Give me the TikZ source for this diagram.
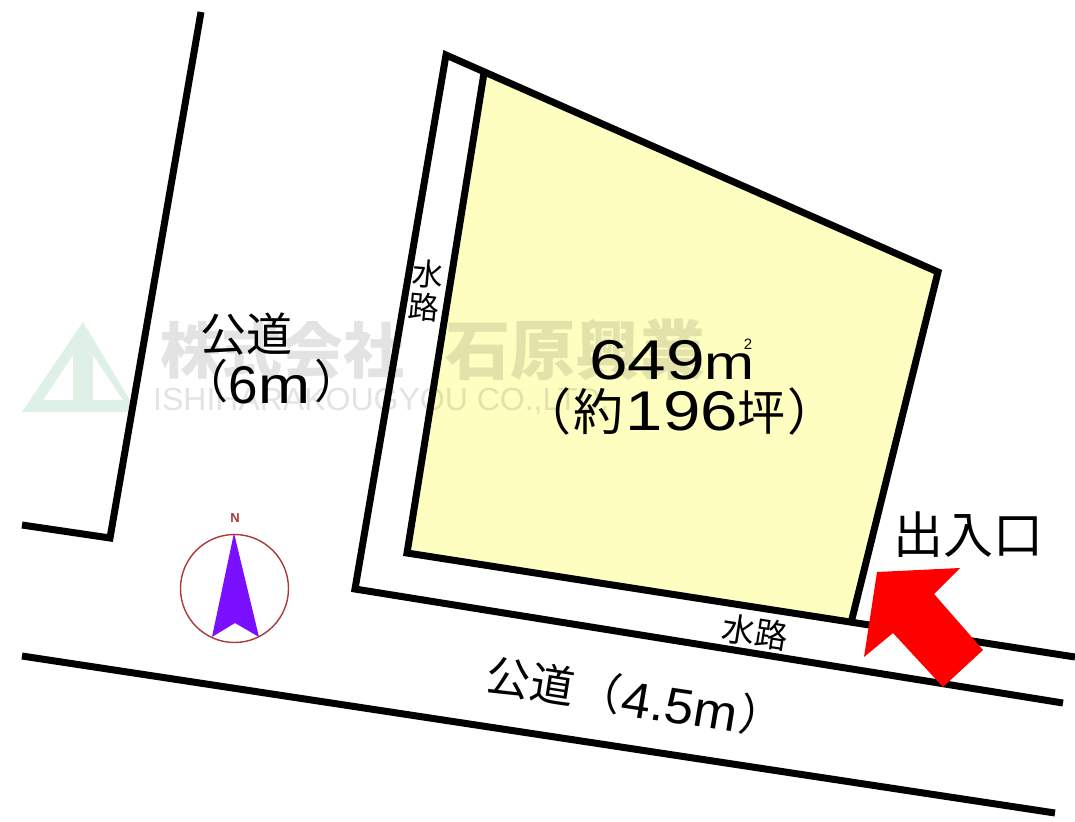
\documentclass[tikz,border=0pt]{standalone}
\usepackage{fontspec}
\setmainfont{Liberation Sans}
\newfontfamily\cjk{Noto Sans CJK JP}
\newcommand{\fsz}[1]{\fontsize{#1}{#1}\selectfont}
\definecolor{parcel}{HTML}{FEFEC0}
\definecolor{wmlogo}{HTML}{DFF0E6}
\definecolor{compassred}{HTML}{A83A3A}
\definecolor{compassfill}{HTML}{7A10FF}
\tikzset{
  boundary/.style={draw=black,line width=7pt,line cap=butt,line join=miter},
  label/.style={inner sep=0pt,text=black,font=\cjk},
  watermark/.style={inner sep=0pt,text=black,text opacity=0.11}
}
\begin{document}
\begin{tikzpicture}[x=1pt,y=-1pt]
\useasboundingbox (0,0) rectangle (1075,821);
\fill[white] (0,0) rectangle (1075,821);
% parcel fill
\fill[parcel] (484,73) -- (938,272) -- (851,623) -- (407,553) -- cycle;
% watermark
\fill[wmlogo,even odd rule] (83,322) -- (22,412) -- (137,412) -- cycle
  (73,355) -- (43,400) -- (73,400) -- cycle
  (93,355) -- (93,400) -- (123,400) -- cycle;
\node[watermark,font=\cjk\bfseries\fsz{61}] (wm1) at (282,350) {株式会社};
\node[watermark,font=\cjk\bfseries\fsz{65}] (wm2) at (575,350) {石原興業};
\node[watermark,font=\fsz{32},anchor=west] (wm3) at (153,401) {ISHIHARAKOUGYOU CO.,LTD.};
% boundaries
\draw[boundary] (201,12) -- (110,538) -- (22,525);
\draw[boundary] (484,73) -- (407,553) -- (1075,657);
\draw[boundary] (851,623) -- (938,272) -- (446,55) -- (355,589) -- (1063,703);
\draw[boundary] (22,656) -- (1055,813);
% entrance arrow
\fill[red] (877,572) -- (960,568) -- (934,594) -- (983,650) -- (943,687) -- (893,633) -- (864,657) -- cycle;
% compass
\draw[compassred,line width=1.4pt] (234.5,588.5) circle (54);
\fill[compassfill] (234,533) -- (212,637) -- (235,623) -- (259,637) -- cycle;
\node[inner sep=0pt,text=compassred,font=\bfseries\fsz{13}] (north) at (235,518) {N};
% labels
\node[label,font=\cjk\fsz{46}] (road6a) at (246,334) {公道};
\node[label,font=\cjk\fsz{46}] (road6o) at (205,381) {（};
\node[label,font=\fsz{53},anchor=base] (road6n) at (243,403) {6};
\node[label,font=\fsz{52},xscale=1.2,anchor=base] (road6m) at (284,403) {m};
\node[label,font=\cjk\fsz{46}] (road6c) at (337,381) {）};
\node[label,font=\fsz{56},xscale=1.24,anchor=base] (area) at (647,379) {649};
\node[label,font=\fsz{48},xscale=1.25,anchor=base] (sqm) at (729,379) {m};
\node[label,font=\fsz{15},anchor=base] (sqtwo) at (748,349) {2};
\node[label,font=\cjk\fsz{50},anchor=base] (open) at (546,430) {（};
\node[label,font=\cjk\fsz{50},anchor=base] (yaku) at (598,430) {約};
\node[label,font=\fsz{56},xscale=1.2,anchor=base] (num) at (682,430) {196};
\node[label,font=\cjk\fsz{48},anchor=base] (tsubo) at (761,430) {坪};
\node[label,font=\cjk\fsz{50},anchor=base] (close) at (812,430) {）};
\node[label,font=\cjk\fsz{31},rotate=-5] (ws1) at (428,274) {水};
\node[label,font=\cjk\fsz{31},rotate=-5] (ws2) at (424,307) {路};
\node[label,font=\cjk\fsz{33},rotate=-9] (ws3) at (755,632) {水路};
\node[label,font=\cjk\fsz{44},rotate=-9] (road45a) at (531,681) {公道};
\node[label,font=\cjk\fsz{44},rotate=-9] (road45o) at (600,691) {（};
\node[label,font=\fsz{50},xscale=1.05,rotate=-9] (road45n) at (680,707) {4.5m};
\node[label,font=\cjk\fsz{44},rotate=-9] (road45c) at (762,716) {）};
\node[label,font=\cjk\fsz{50}] (gate) at (968,535) {出入口};
\end{tikzpicture}
\end{document}
